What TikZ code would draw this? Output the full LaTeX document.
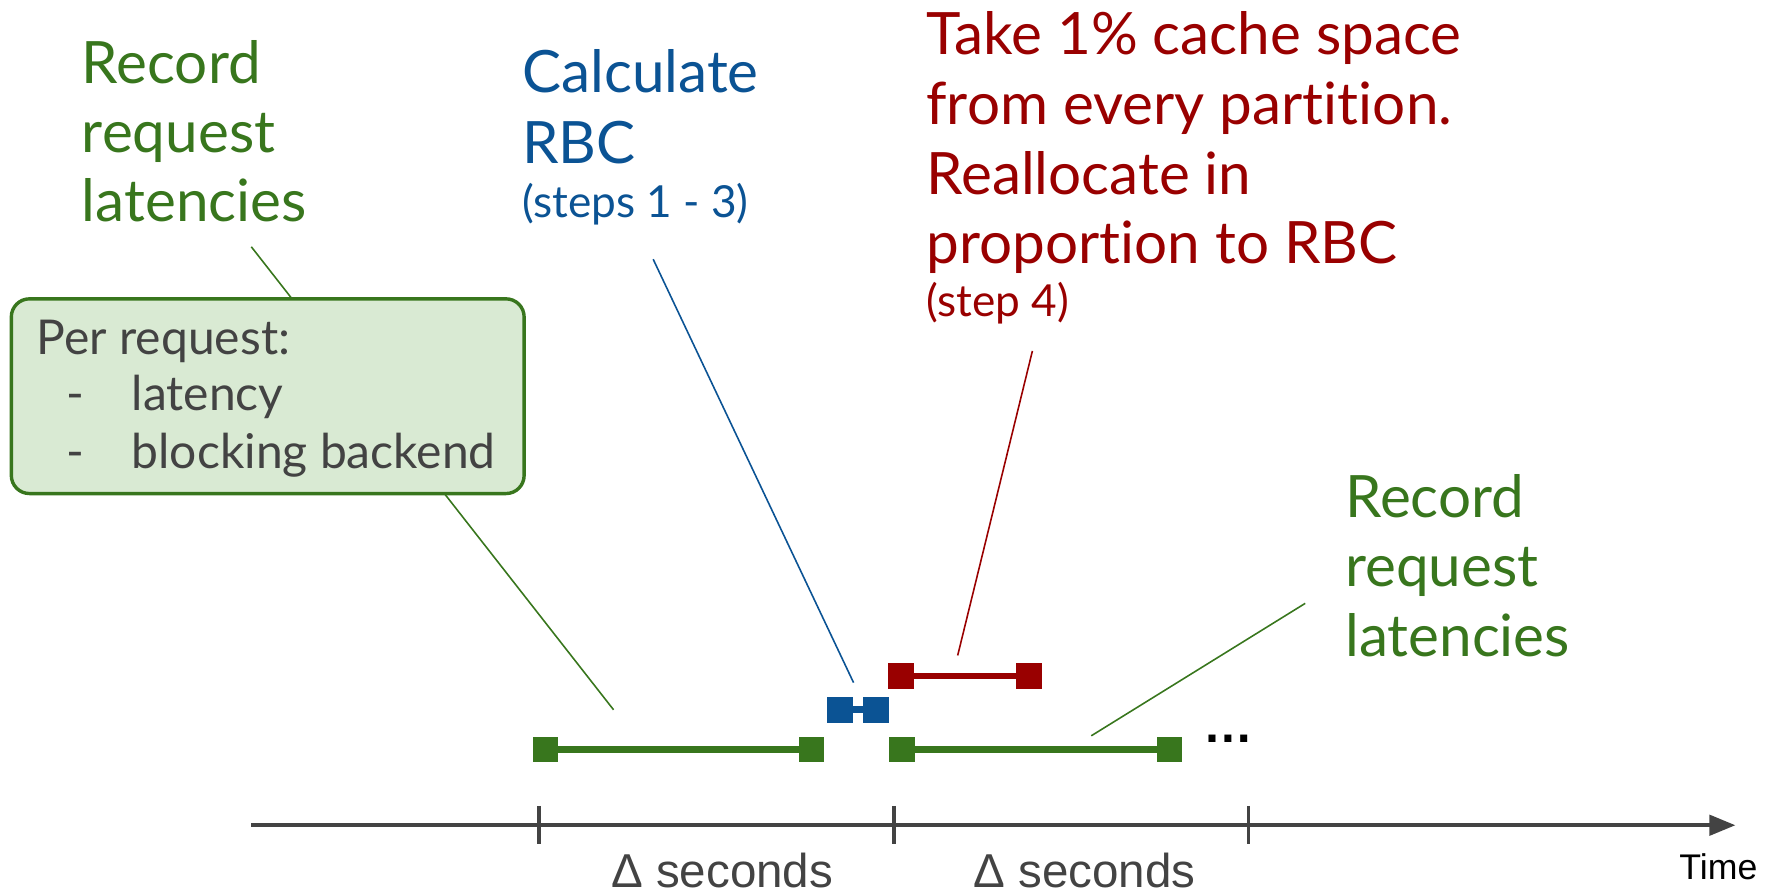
\documentclass[tikz,border=0pt]{standalone}
\usepackage{fontspec}
\setmainfont{Lato}[Ligatures=NoCommon]
\newfontfamily\axisfont{Liberation Sans}
\usetikzlibrary{arrows.meta}
\definecolor{recgreen}{HTML}{38761D}
\definecolor{rbcblue}{HTML}{0B5394}
\definecolor{realred}{HTML}{990000}
\definecolor{notefill}{HTML}{D9EAD3}
\definecolor{inkgray}{HTML}{434343}
\tikzset{
  bigtxt/.style={font=\fontsize{25.8pt}{30.5pt}\selectfont, anchor=base west, inner sep=0pt},
  smalltxt/.style={font=\fontsize{19.5pt}{23pt}\selectfont, anchor=base west, inner sep=0pt},
  notetxt/.style={font=\fontsize{21.2pt}{25pt}\selectfont, anchor=base west, inner sep=0pt, text=inkgray},
  leader/.style={line width=0.7pt},
  seg/.style={line width=2.9pt},
  endsq/.style={minimum width=11.3pt, minimum height=11.3pt, inner sep=0pt, outer sep=0pt, fill},
  axisline/.style={line width=1.6pt, draw=inkgray},
  tick/.style={line width=1.6pt, draw=inkgray},
  axislbl/.style={font=\axisfont\fontsize{21pt}{25pt}\selectfont, text=inkgray, anchor=base, inner sep=0pt},
}
\begin{document}
\begin{tikzpicture}[x=0.5pt,y=-0.5pt]
\useasboundingbox (0,0) rectangle (1568,790);

% ---- time axis ----
\coordinate (axL) at (222,729);
\coordinate (axR) at (1533,729);
\draw[axisline, -{Triangle[length=11.5pt,width=9pt]}] (axL) -- (axR);
\foreach \t/\x in {t0/476, t1/790, t2/1103} {
  \coordinate (\t top) at (\x,712);
  \coordinate (\t bot) at (\x,746);
  \draw[tick] (\t top) -- (\t bot);
}
\node[axislbl] (d1) at (638,784) {Δ seconds};
\node[axislbl] (d2) at (958,784) {Δ seconds};
\node[font=\axisfont\fontsize{15.75pt}{18pt}\selectfont, anchor=base, inner sep=0pt] (time) at (1518,777) {Time};

% ---- interval bars ----
\node[endsq, recgreen] (g1a) at (482,662) {};
\node[endsq, recgreen] (g1b) at (717,662) {};
\draw[seg, recgreen] (g1a) -- (g1b);
\node[endsq, recgreen] (g2a) at (797,662) {};
\node[endsq, recgreen] (g2b) at (1033,662) {};
\draw[seg, recgreen] (g2a) -- (g2b);
\node[endsq, rbcblue] (b1a) at (742,627) {};
\node[endsq, rbcblue] (b1b) at (774,627) {};
\draw[seg, rbcblue] (b1a) -- (b1b);
\node[endsq, realred] (r1a) at (796,597) {};
\node[endsq, realred] (r1b) at (909,597) {};
\draw[seg, realred] (r1a) -- (r1b);
\node[font=\axisfont\bfseries\fontsize{22pt}{26pt}\selectfont, anchor=base, inner sep=0pt] (more) at (1085,656) {…};

% ---- leader lines ----
\coordinate (gl1s) at (222,218);
\coordinate (gl1e) at (542,627);
\draw[leader, recgreen] (gl1s) -- (gl1e);
\coordinate (bls) at (577,229);
\coordinate (ble) at (754,603);
\draw[leader, rbcblue] (bls) -- (ble);
\coordinate (rls) at (912,310);
\coordinate (rle) at (846,579);
\draw[leader, realred] (rls) -- (rle);
\coordinate (gl2s) at (1153,533);
\coordinate (gl2e) at (964,650);
\draw[leader, recgreen] (gl2s) -- (gl2e);

% ---- note box ----
\node[draw=recgreen, fill=notefill, line width=1.5pt, rounded corners=8pt,
      minimum width=226.5pt, minimum height=86pt, inner sep=0pt] (note) at (236.5,350) {};
\node[notetxt] (n1) at (32,313) {Per request:};
\node[notetxt] (n2d) at (58,363) {-};
\node[notetxt] (n2) at (116,363) {latency};
\node[notetxt] (n3d) at (58,414) {-};
\node[notetxt] (n3) at (116,414) {blocking backend};

% ---- labels ----
\begin{scope}[text=recgreen]
\node[bigtxt] (gA1) at (72,74) {Record};
\node[bigtxt] (gA2) at (72,135) {request};
\node[bigtxt] (gA3) at (72,196) {latencies};
\node[bigtxt] (gB1) at (1188,457) {Record};
\node[bigtxt] (gB2) at (1188,518) {request};
\node[bigtxt] (gB3) at (1188,580) {latencies};
\end{scope}
\begin{scope}[text=rbcblue]
\node[bigtxt] (bA1) at (461,82) {Calculate};
\node[bigtxt] (bA2) at (461,144) {RBC};
\node[smalltxt] (bA3) at (461,192) {(steps 1 - 3)};
\end{scope}
\begin{scope}[text=realred]
\node[bigtxt] (rA1) at (818,48) {Take 1\% cache space};
\node[bigtxt] (rA2) at (818,110) {from every partition.};
\node[bigtxt] (rA3) at (818,172) {Reallocate in};
\node[bigtxt] (rA4) at (818,233) {proportion to RBC};
\node[smalltxt] (rA5) at (818,280) {(step 4)};
\end{scope}
\end{tikzpicture}
\end{document}
